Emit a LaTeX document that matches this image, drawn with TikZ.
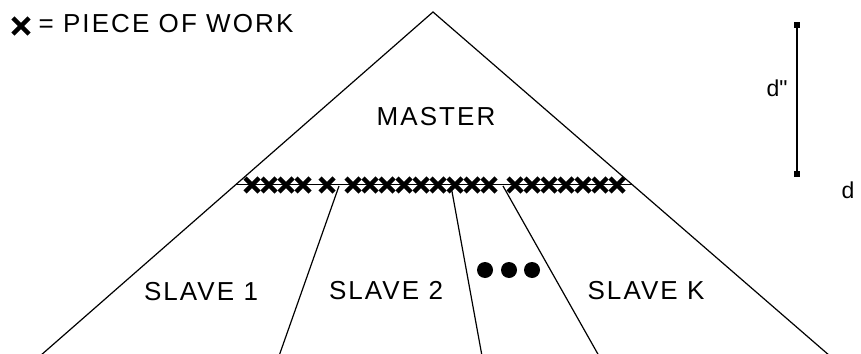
\documentclass[tikz,border=0pt]{standalone}
\usepackage{fontspec}
\usepackage{tikz}
\usetikzlibrary{arrows.meta, positioning, calc}
\newfontfamily\labelfont{Liberation Sans}[LetterSpace=8]

\begin{document}
\begin{tikzpicture}[x=1pt, y=-1pt, line width=1.2pt,
  txt/.style={font=\labelfont\fontsize{26}{30}\selectfont, inner sep=0pt},
  smalltxt/.style={font=\labelfont\fontsize{23}{26}\selectfont, inner sep=0pt},
  piece/.pic={\draw[line width=4.5pt] (-7,-7) -- (7,7) (-7,7) -- (7,-7);},
  dimline/.style={line width=2pt, {Square[length=6pt,width=6pt]}-{Square[length=6pt,width=6pt]}}]

  \useasboundingbox (0,0) rectangle (861,353);

  % pyramid
  \coordinate (apex) at (433,12);
  \coordinate (leftfoot) at (40,356);
  \coordinate (rightfoot) at (830,356);
  \draw (leftfoot) -- (apex) -- (rightfoot);

  % pieces of work line
  \coordinate (cutl) at ($(apex)!0.502!(leftfoot)$);
  \coordinate (cutr) at ($(apex)!0.502!(rightfoot)$);
  \draw (cutl) -- (cutr);
  \foreach \x in {252,269,286,303,327,353,370,387,404,421,438,455,472,489,515,532,549,566,583,600,617}
    \pic at (\x,185) {piece};

  % slaves
  \coordinate (s1top) at (339,186);
  \coordinate (s1bot) at (279,356);
  \coordinate (s2top) at (451,186);
  \coordinate (s2bot) at (482,356);
  \coordinate (s3top) at (503,186);
  \coordinate (s3bot) at (599,356);
  \draw (s1top) -- (s1bot);
  \draw (s2top) -- (s2bot);
  \draw (s3top) -- (s3bot);

  \node[txt] (master) at (436,117) {MASTER};
  \node[txt] (slave1) at (201,292) {SLAVE 1};
  \node[txt] (slave2) at (386,291) {SLAVE 2};
  \node[txt] (slavek) at (646,291) {SLAVE K};

  \foreach \x [count=\i] in {485,509,532}
    \fill (\x,270) circle (8) coordinate (dot\i);

  % legend
  \pic[scale=1.15] at (21,26) {piece};
  \node[txt, anchor=west] (legend) at (38,24) {= PIECE OF WORK};

  % dimensions
  \coordinate (dtop) at (797,22);
  \coordinate (dbot) at (797,177);
  \draw[dimline] (dtop) -- (dbot);
  \node[smalltxt] (dtwo) at (777,88) {d\textquotedbl};
  \node[smalltxt] (done) at (848,190) {d};
\end{tikzpicture}
\end{document}
